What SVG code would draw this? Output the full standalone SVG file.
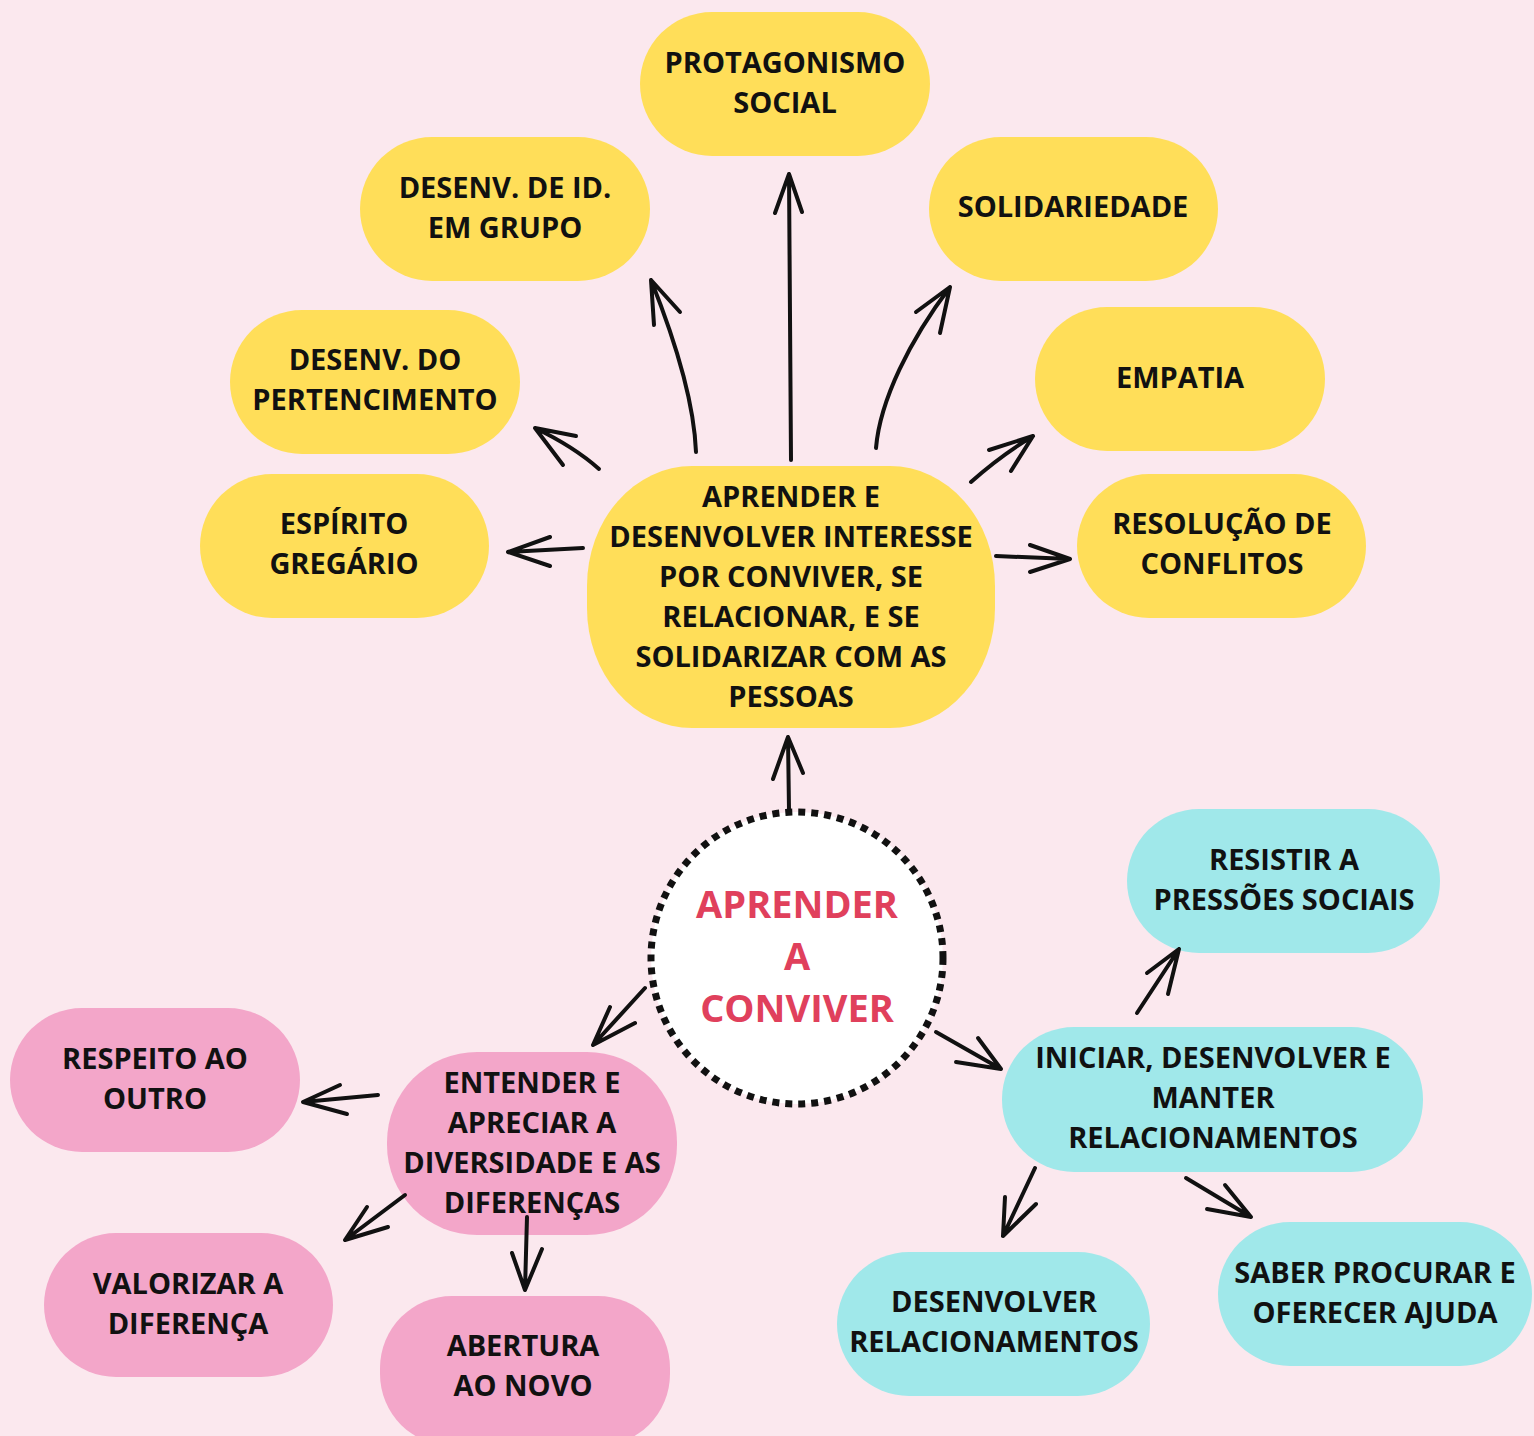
<svg xmlns="http://www.w3.org/2000/svg" width="1534" height="1436" viewBox="0 0 1534 1436">
<style>
text{font-family:"Open Sans","Liberation Sans",sans-serif;font-weight:700;font-size:29px;text-anchor:middle;fill:#111}
.y{fill:#ffde59}.p{fill:#f3a6c9}.c{fill:#a0e8ea}
.t{font-size:38px;fill:#e0405c}
#conn path{fill:none;stroke:#111;stroke-width:4;stroke-linecap:round;stroke-linejoin:round}
</style>
<rect width="1534" height="1436" fill="#fbe8ee"/>
<g id="n-protagonismo"><rect class="y" x="640" y="12" width="290" height="144" rx="72"/><text x="785" y="73">PROTAGONISMO</text><text x="785" y="113">SOCIAL</text></g>
<g id="n-desenv-id"><rect class="y" x="360" y="137" width="290" height="144" rx="72"/><text x="505" y="198">DESENV. DE ID.</text><text x="505" y="238">EM GRUPO</text></g>
<g id="n-solidariedade"><rect class="y" x="929" y="137" width="289" height="144" rx="72"/><text x="1073" y="217">SOLIDARIEDADE</text></g>
<g id="n-pertencimento"><rect class="y" x="230" y="310" width="290" height="144" rx="72"/><text x="375" y="370">DESENV. DO</text><text x="375" y="410">PERTENCIMENTO</text></g>
<g id="n-empatia"><rect class="y" x="1035" y="307" width="290" height="144" rx="72"/><text x="1180" y="388">EMPATIA</text></g>
<g id="n-espirito"><rect class="y" x="200" y="474" width="289" height="144" rx="72"/><text x="344" y="534">ESPÍRITO</text><text x="344" y="574">GREGÁRIO</text></g>
<g id="n-resolucao"><rect class="y" x="1077" y="474" width="289" height="144" rx="72"/><text x="1222" y="534">RESOLUÇÃO DE</text><text x="1222" y="574">CONFLITOS</text></g>
<g id="n-central"><rect class="y" x="587" y="466" width="408" height="262" rx="105" ry="120"/>
<text x="791" y="507">APRENDER E</text><text x="791" y="547">DESENVOLVER INTERESSE</text><text x="791" y="587">POR CONVIVER, SE</text><text x="791" y="627">RELACIONAR, E SE</text><text x="791" y="667">SOLIDARIZAR COM AS</text><text x="791" y="707">PESSOAS</text></g>
<g id="n-root"><circle cx="797" cy="958" r="146" fill="#fff" stroke="#111" stroke-width="7" stroke-dasharray="7 6"/>
<text class="t" x="797" y="918">APRENDER</text><text class="t" x="797" y="970">A</text><text class="t" x="797" y="1022">CONVIVER</text></g>
<g id="n-entender"><rect class="p" x="387" y="1052" width="290" height="183" rx="90"/><text x="532" y="1093">ENTENDER E</text><text x="532" y="1133">APRECIAR A</text><text x="532" y="1173">DIVERSIDADE E AS</text><text x="532" y="1213">DIFERENÇAS</text></g>
<g id="n-respeito"><rect class="p" x="10" y="1008" width="290" height="144" rx="72"/><text x="155" y="1069">RESPEITO AO</text><text x="155" y="1109">OUTRO</text></g>
<g id="n-valorizar"><rect class="p" x="44" y="1233" width="289" height="144" rx="72"/><text x="188" y="1294">VALORIZAR A</text><text x="188" y="1334">DIFERENÇA</text></g>
<g id="n-abertura"><rect class="p" x="380" y="1296" width="290" height="150" rx="72"/><text x="523" y="1356">ABERTURA</text><text x="523" y="1396">AO NOVO</text></g>
<g id="n-resistir"><rect class="c" x="1127" y="809" width="313" height="144" rx="72"/><text x="1284" y="870">RESISTIR A</text><text x="1284" y="910">PRESSÕES SOCIAIS</text></g>
<g id="n-iniciar"><rect class="c" x="1002" y="1027" width="421" height="145" rx="72"/><text x="1213" y="1068">INICIAR, DESENVOLVER E</text><text x="1213" y="1108">MANTER</text><text x="1213" y="1148">RELACIONAMENTOS</text></g>
<g id="n-desenvolver"><rect class="c" x="837" y="1252" width="313" height="144" rx="72"/><text x="994" y="1312">DESENVOLVER</text><text x="994" y="1352">RELACIONAMENTOS</text></g>
<g id="n-saber"><rect class="c" x="1218" y="1222" width="314" height="144" rx="72"/><text x="1375" y="1283">SABER PROCURAR E</text><text x="1375" y="1323">OFERECER AJUDA</text></g>
<g id="conn">
<path d="M791 460 L789 174 M775 213 L789 174 L802 212"/>
<path d="M696 452 C694 400 675 340 651 280 M654 325 L651 280 L680 312"/>
<path d="M876 448 C880 400 910 340 950 287 M916 312 L950 287 L940 333"/>
<path d="M599 469 C580 452 560 440 535 428 M576 436 L535 428 L563 465"/>
<path d="M971 482 C990 465 1010 450 1033 436 M989 450 L1033 436 L1011 471"/>
<path d="M583 548 L508 552 M550 537 L508 552 L550 566"/>
<path d="M996 556 L1070 559 M1030 545 L1070 559 L1030 572"/>
<path d="M789 810 L788 737 M773 779 L788 737 L803 773"/>
<path d="M645 988 L593 1045 M610 1007 L593 1045 L635 1023"/>
<path d="M936 1032 L1001 1069 M978 1038 L1001 1069 L956 1062"/>
<path d="M378 1095 L303 1102 M340 1085 L303 1102 L347 1114"/>
<path d="M405 1195 L345 1240 M367 1207 L345 1240 L388 1227"/>
<path d="M527 1217 L525 1290 M512 1253 L525 1290 L542 1249"/>
<path d="M1137 1013 L1179 949 M1147 973 L1179 949 L1168 994"/>
<path d="M1035 1168 L1003 1236 M1005 1197 L1003 1236 L1036 1204"/>
<path d="M1186 1178 L1251 1217 M1225 1185 L1251 1217 L1207 1209"/>
</g>
</svg>
